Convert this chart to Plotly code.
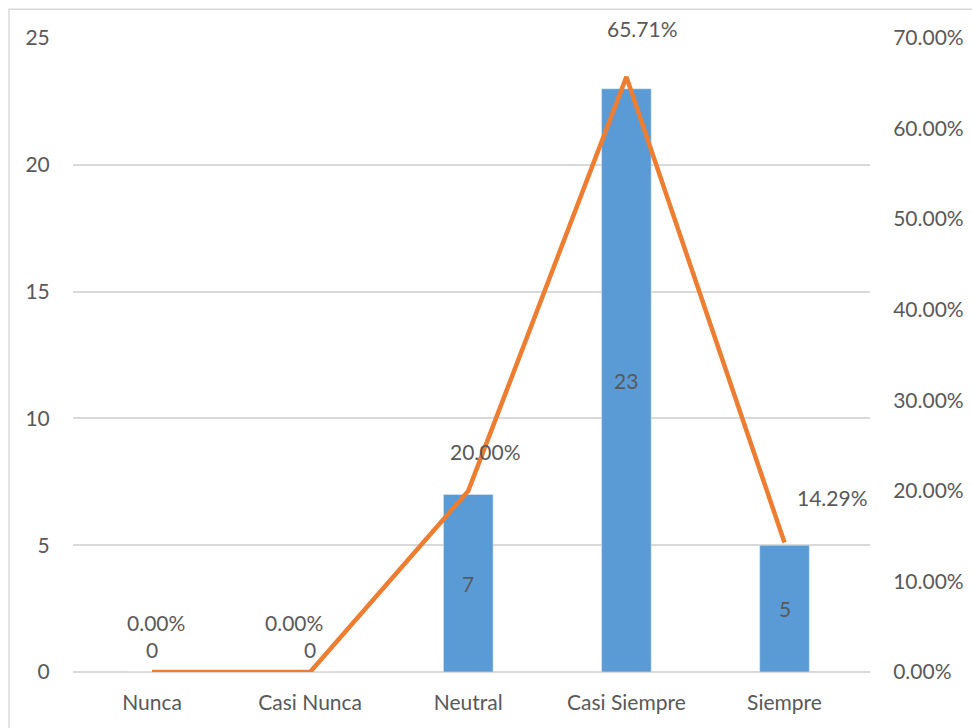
import plotly.graph_objects as go

categories = ["Nunca", "Casi Nunca", "Neutral", "Casi Siempre", "Siempre"]
counts = [0, 0, 7, 23, 5]
percents = [0.0, 0.0, 0.20, 0.6571, 0.1429]
pct_labels = ["0.00%", "0.00%", "20.00%", "65.71%", "14.29%"]
# label offsets (pixels) for percentage labels, as placed in the original
pct_xshift = [4, -16, 17, 16, 48]
pct_yshift = [50, 50, 39, 48, 45]

TXT = "#595959"
FONT = "Lato"
FS = 21

fig = go.Figure()
fig.add_trace(go.Bar(
    x=categories, y=counts, marker_color="#5b9bd5", name="Frecuencia",
    yaxis="y",
))
fig.add_trace(go.Scatter(
    x=categories, y=percents, mode="lines", line=dict(color="#ed7d31", width=4.5),
    name="Porcentaje", yaxis="y2",
))

annotations = []
for c, v in zip(categories, counts):
    if v == 0:
        annotations.append(dict(x=c, y=0, xref="x", yref="y", text=str(v), showarrow=False,
                                yshift=23, font=dict(family=FONT, size=FS, color=TXT)))
    else:
        annotations.append(dict(x=c, y=v / 2, xref="x", yref="y", text=str(v), showarrow=False,
                                font=dict(family=FONT, size=FS, color=TXT)))
for c, p, t, xs, ys in zip(categories, percents, pct_labels, pct_xshift, pct_yshift):
    annotations.append(dict(x=c, y=p, xref="x", yref="y2", text=t, showarrow=False,
                            xshift=xs, yshift=ys, font=dict(family=FONT, size=FS, color=TXT)))

fig.update_layout(
    width=972, height=728,
    margin=dict(l=73, r=102, t=38, b=56),
    paper_bgcolor="white", plot_bgcolor="white",
    showlegend=False,
    bargap=0.686,
    font=dict(family=FONT, size=FS, color=TXT),
    xaxis=dict(showgrid=False, showline=False, zeroline=False, ticks="outside", automargin=False,
               ticklen=12, tickcolor="rgba(0,0,0,0)", tickfont=dict(size=FS, color=TXT)),
    yaxis=dict(range=[0, 25], dtick=5, showgrid=True, gridcolor="#d9d9d9", gridwidth=1.5,
               zeroline=True, zerolinecolor="#d9d9d9", zerolinewidth=1.5, showline=False,
               ticks="outside", ticklen=18, tickcolor="rgba(0,0,0,0)", automargin=False,
               tickfont=dict(size=FS, color=TXT)),
    yaxis2=dict(range=[0, 0.7], dtick=0.1, tickformat=".2%", overlaying="y", side="right",
                showgrid=False, zeroline=False, showline=False, automargin=False,
                ticks="outside", ticklen=18, tickcolor="rgba(0,0,0,0)",
                tickfont=dict(size=FS, color=TXT)),
    annotations=annotations,
    shapes=[dict(type="rect", xref="paper", yref="paper", x0=-0.0803, x1=1.2, y0=-0.2, y1=1.0452,
                 line=dict(color="#d9d9d9", width=1.5), fillcolor="rgba(0,0,0,0)", layer="below")],
)

fig.write_html("out.html", config={"displayModeBar": False},
               post_script="document.body.style.margin='0';")
